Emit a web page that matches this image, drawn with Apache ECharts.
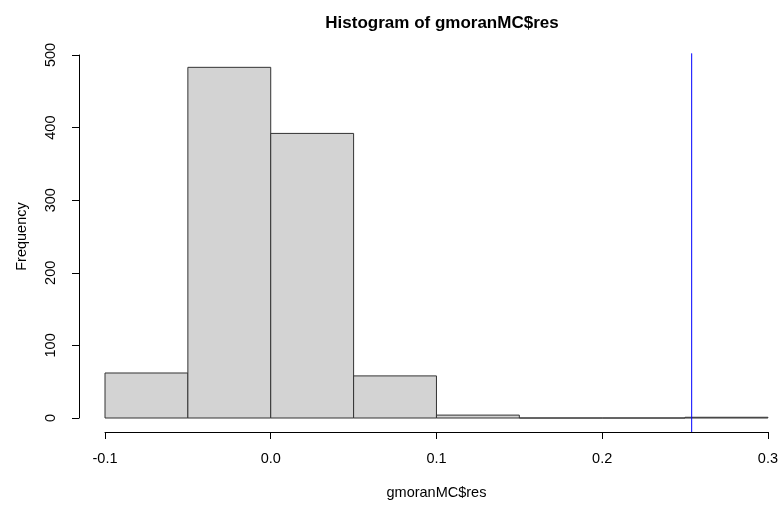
<!DOCTYPE html>
<html>
<head>
<meta charset="utf-8">
<script src="https://cdn.jsdelivr.net/npm/echarts@6/dist/echarts.min.js"></script>
<style>
  html, body { margin: 0; padding: 0; background: #fff; }
  #chart { width: 781px; height: 507px; }
</style>
</head>
<body>
<div id="chart"></div>
<script>
// histogram bins (breaks) and counts
var binStarts = [-0.1, -0.05, 0.0, 0.05, 0.1, 0.15, 0.2, 0.25]
var binEnds = [-0.05, 0.0, 0.05, 0.1, 0.15, 0.2, 0.25, 0.3]
var counts = [62, 483, 392, 58, 4, 0, 0, 1]
var xTicks = [-0.1, 0.0, 0.1, 0.2, 0.3]
var yTicks = [0, 100, 200, 300, 400, 500]
// observed statistic (abline)
var observed = [0.254]

var histData = binStarts.map(function (s, i) {
  return [s, binEnds[i], counts[i]]
})

var chart = echarts.init(document.getElementById('chart'))
var font = 'Liberation Sans, Arial, sans-serif'

chart.setOption({
  animation: false,
  title: {
    text: 'Histogram of gmoranMC$res',
    left: 437,
    top: 10,
    textAlign: 'center',
    textStyle: {
      fontFamily: font,
      fontSize: 17,
      fontWeight: 'bold',
      color: '#000'
    }
  },
  grid: {
    left: 105,
    right: 12,
    top: 55,
    bottom: 89
  },
  xAxis: {
    type: 'value',
    min: xTicks[0],
    max: xTicks[xTicks.length - 1],
    interval: 0.1,
    offset: 14,
    splitLine: { show: false },
    axisLine: { onZero: false, lineStyle: { color: '#000', width: 1 } },
    axisTick: { length: 7, lineStyle: { color: '#000' } },
    axisLabel: {
      margin: 19,
      fontFamily: font,
      fontSize: 14.5,
      color: '#000',
      showMinLabel: true,
      showMaxLabel: true,
      formatter: function (v) { return v.toFixed(1) }
    },
    name: 'gmoranMC$res',
    nameLocation: 'middle',
    nameGap: 53,
    nameTextStyle: { fontFamily: font, fontSize: 14.5, color: '#000' }
  },
  yAxis: {
    type: 'value',
    min: yTicks[0],
    max: yTicks[yTicks.length - 1],
    interval: 100,
    offset: 26,
    splitLine: { show: false },
    axisLine: { show: true, onZero: false, lineStyle: { color: '#000', width: 1 } },
    axisTick: { show: true, length: 7, lineStyle: { color: '#000' } },
    axisLabel: {
      rotate: 90,
      margin: 21,
      fontFamily: font,
      fontSize: 14.5,
      color: '#000'
    },
    name: 'Frequency',
    nameLocation: 'middle',
    nameRotate: 90,
    nameGap: 50,
    nameTextStyle: { fontFamily: font, fontSize: 14.5, color: '#000' }
  },
  series: [
    {
      type: 'custom',
      data: histData,
      clip: false,
      renderItem: function (params, api) {
        var p0 = api.coord([api.value(0), api.value(2)])
        var p1 = api.coord([api.value(1), 0])
        return {
          type: 'rect',
          shape: { x: p0[0], y: p0[1], width: p1[0] - p0[0], height: p1[1] - p0[1] },
          style: { fill: '#d3d3d3', stroke: '#333', lineWidth: 1 }
        }
      }
    },
    {
      type: 'custom',
      data: observed.map(function (v) { return [v] }),
      clip: false,
      encode: { x: 0 },
      renderItem: function (params, api) {
        var x = api.value(0)
        var a = api.coord([x, -19.3])
        var b = api.coord([x, 502.3])
        return {
          type: 'line',
          shape: { x1: a[0], y1: a[1], x2: b[0], y2: b[1] },
          style: { stroke: '#0000ff', lineWidth: 1 }
        }
      }
    }
  ]
})
</script>
</body>
</html>
